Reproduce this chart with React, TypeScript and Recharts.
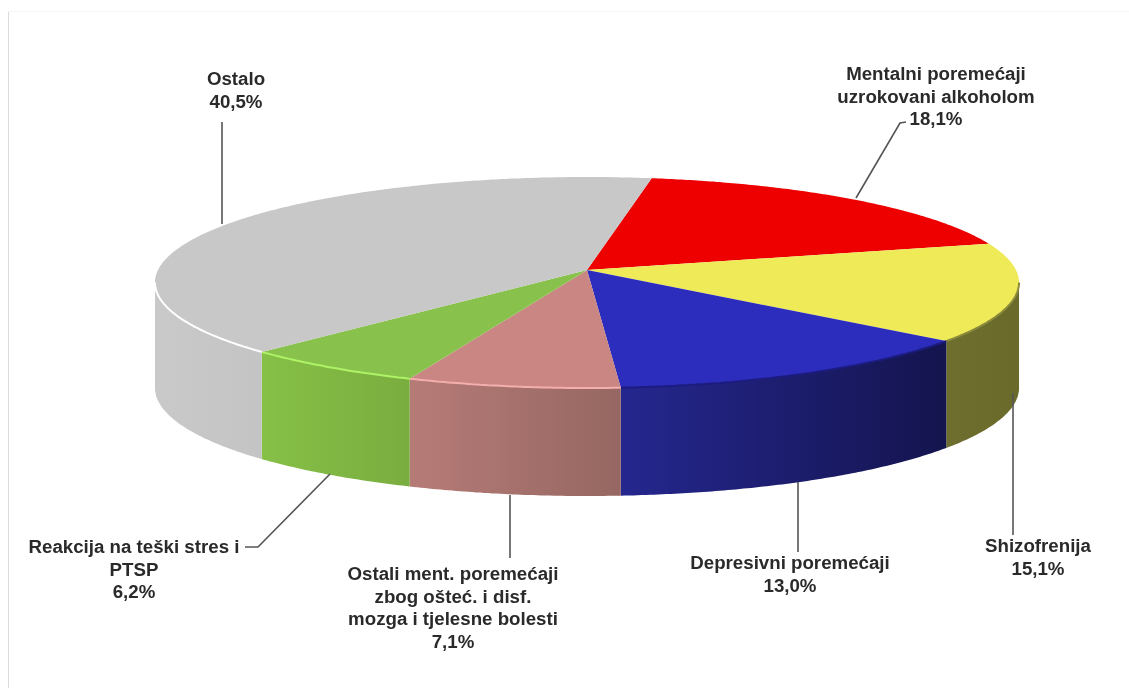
import { Pie, PieChart } from "recharts";

const NAMES = [
  "Mentalni poremećaji uzrokovani alkoholom",
  "Shizofrenija",
  "Depresivni poremećaji",
  "Ostali ment. poremećaji zbog ošteć. i disf. mozga i tjelesne bolesti",
  "Reakcija na teški stres i PTSP",
  "Ostalo",
];
const VALUES = [18.1, 15.1, 13.0, 7.1, 6.2, 40.5];

const LABEL_LINES = [
  ["Mentalni poremećaji", "uzrokovani alkoholom", "18,1%"],
  ["Shizofrenija", "15,1%"],
  ["Depresivni poremećaji", "13,0%"],
  ["Ostali ment. poremećaji", "zbog ošteć. i disf.", "mozga i tjelesne bolesti", "7,1%"],
  ["Reakcija na teški stres i", "PTSP", "6,2%"],
  ["Ostalo", "40,5%"],
];

// colours, same order as the slices
const TOP_COLORS = ["#ee0000", "#eeea58", "#2d2dbd", "#c98682", "#88c24c", "#c8c8c8"];
const WALL_FROM = ["#8a0000", "#6e6e2e", "#25278f", "#b67b77", "#86c047", "#c9c9c9"];
const WALL_TO = ["#8a0000", "#6a6a2a", "#14144e", "#966762", "#7aad3f", "#c4c4c4"];
const RIM_COLORS = ["none", "#8c8c3c", "#1c1c80", "#f3aeae", "#aef266", "#ffffff"];

// label anchors and leader lines
const LABEL_POS = [
  { x: 936, y: 80 },
  { x: 1038, y: 552 },
  { x: 790, y: 569 },
  { x: 453, y: 580 },
  { x: 134, y: 553 },
  { x: 236, y: 85 },
];
const LEADERS = [
  "906,122 900,123 856,198",
  "1013,393 1013,535",
  "798,482 798,552",
  "510,495 510,558",
  "330,474 258,547 245,547",
  "222,122 222,224",
];

const START_ANGLE = 80.3;
const RADIUS = 429;
const FLATTEN = 104 / RADIUS;
const PERSPECTIVE = 0.1185;
// only this stretch of the rim faces the viewer
const FRONT_FROM = -6.8;
const FRONT_TO = -173.2;

// circle point -> picture, near side drawn larger
function project(cx: number, cy: number, deg: number) {
  const a = (deg * Math.PI) / 180;
  const c = Math.cos(a);
  const s = Math.sin(a);
  const w = 1 + PERSPECTIVE * s;
  return {
    x: cx + (RADIUS * c) / w,
    y: cy - (RADIUS * FLATTEN * s) / w,
    s,
  };
}

function arc(cx: number, cy: number, from: number, to: number, drop = false) {
  const n = Math.max(2, Math.ceil(Math.abs(to - from) * 2));
  const pts: string[] = [];
  for (let i = 0; i <= n; i++) {
    const p = project(cx, cy, from + ((to - from) * i) / n);
    const y = drop ? p.y + 105 - 3 * p.s : p.y;
    pts.push(`${p.x.toFixed(1)},${y.toFixed(1)}`);
  }
  return pts;
}

function WallShape(props: any) {
  const { cx, cy, startAngle, endAngle, index } = props;
  const from = Math.min(startAngle, FRONT_FROM);
  const to = Math.max(endAngle, FRONT_TO);
  if (from <= to) return <g />;
  const top = arc(cx, cy, from, to);
  const bottom = arc(cx, cy, to, from, true);
  return <polygon points={[...top, ...bottom].join(" ")} fill={`url(#wall${index})`} />;
}

function TopShape(props: any) {
  const { cx, cy, startAngle, endAngle, index } = props;
  const edge = arc(cx, cy, startAngle, endAngle);
  const from = Math.min(startAngle, FRONT_FROM);
  const to = Math.max(endAngle, FRONT_TO);
  const rim = from > to ? arc(cx, cy, from, to) : [];
  return (
    <g>
      <polygon points={[`${cx},${cy}`, ...edge].join(" ")} fill={TOP_COLORS[index]} />
      {rim.length > 0 && RIM_COLORS[index] !== "none" && (
        <polyline points={rim.join(" ")} fill="none" stroke={RIM_COLORS[index]} strokeWidth={2} />
      )}
    </g>
  );
}

function SliceLabel(props: any) {
  const { index } = props;
  const pos = LABEL_POS[index];
  return (
    <g>
      <polyline points={LEADERS[index]} fill="none" stroke="#555555" strokeWidth={1.6} />
      <text
        x={pos.x}
        y={pos.y}
        textAnchor="middle"
        fontFamily="'Liberation Sans', Arial, sans-serif"
        fontWeight="bold"
        fontSize={18.7}
        fill="#2a2a2a"
      >
        {LABEL_LINES[index].map((line, i) => (
          <tspan key={line} x={pos.x} dy={i === 0 ? 0 : 22.5}>
            {line}
          </tspan>
        ))}
      </text>
    </g>
  );
}

const chartData = NAMES.map((name, i) => ({ name, value: VALUES[i] }));

export default function App() {
  return (
    <div style={{ position: "absolute", left: 0, top: 0, width: 1129, height: 688, background: "#fff" }}>
      <div style={{ position: "absolute", left: 8, top: 11, bottom: 0, width: 1, background: "#dcdcdc" }} />
      <div style={{ position: "absolute", left: 8, top: 11, right: 0, height: 1, background: "#f6f6f6" }} />
      <div style={{ position: "absolute", left: 0, top: 0, filter: "blur(0.6px)" }}>
        <PieChart width={1129} height={688} margin={{ top: 0, right: 0, bottom: 0, left: 0 }}>
          <defs>
            {WALL_FROM.map((color, i) => (
              <linearGradient key={i} id={`wall${i}`} x1="0" y1="0" x2="1" y2="0">
                <stop offset="0%" stopColor={color} />
                <stop offset="100%" stopColor={WALL_TO[i]} />
              </linearGradient>
            ))}
          </defs>
          <Pie
            data={chartData}
            dataKey="value"
            nameKey="name"
            cx={587}
            cy={270}
            outerRadius={RADIUS}
            startAngle={START_ANGLE}
            endAngle={START_ANGLE - 360}
            stroke="none"
            shape={WallShape}
            isAnimationActive={false}
          />
          <Pie
            data={chartData}
            dataKey="value"
            nameKey="name"
            cx={587}
            cy={270}
            outerRadius={RADIUS}
            startAngle={START_ANGLE}
            endAngle={START_ANGLE - 360}
            stroke="none"
            shape={TopShape}
            label={SliceLabel}
            labelLine={false}
            isAnimationActive={false}
          />
        </PieChart>
      </div>
    </div>
  );
}
